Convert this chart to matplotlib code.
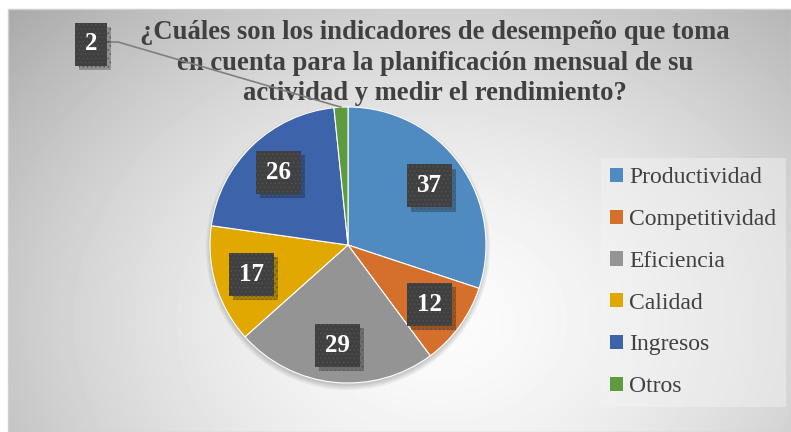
import numpy as np
import matplotlib.pyplot as plt
from matplotlib.patches import Rectangle, Circle
import matplotlib.patheffects as pe

categorias = ["Productividad", "Competitividad", "Eficiencia", "Calidad", "Ingresos", "Otros"]
valores = [37, 12, 29, 17, 26, 2]
colores = ["#4F8BC0", "#D4702B", "#949494", "#E0A800", "#3D64AB", "#5E9A3E"]
titulo = ("¿Cuáles son los indicadores de desempeño que toma\n"
          "en cuenta para la planificación mensual de su\n"
          "actividad y medir el rendimiento?")

W, H = 791, 432
SERIF = ["Liberation Serif", "DejaVu Serif"]
plt.rcParams["hatch.linewidth"] = 0.6

fig = plt.figure(figsize=(W / 100, H / 100), dpi=100)
ax = fig.add_axes([0, 0, 1, 1])

# fondo con degradado radial
x0, y0, x1, y1 = 8, 0, W, H - 9
yy, xx = np.mgrid[y0:y1, x0:x1]
d = np.hypot((xx - 440) / 420, (yy - 110) / 330)
fondo = np.clip(0.985 - 0.19 * d ** 1.6, 0, 1)
ax.imshow(fondo, cmap="gray", vmin=0, vmax=1, origin="lower",
          extent=(x0, x1, y0, y1), aspect="auto", zorder=0)
ax.add_patch(Rectangle((x0, y0), x1 - x0, y1 - y0, fill=False,
                       ec="#cfcfcf", lw=1, zorder=1))

cx, cy, R = 348, 187, 138

# sombra del pastel
for i in range(4):
    ax.add_patch(Circle((cx, cy - 3), R + 4 - i * 1.5, fc="black", ec="none",
                        alpha=0.05, zorder=1))

wedges, _, autotexts = ax.pie(
    valores, colors=colores, startangle=90, counterclock=False,
    center=(cx, cy), radius=R, autopct="%d", pctdistance=0.73,
    wedgeprops=dict(linewidth=0.8, edgecolor="white"), frame=True)

caja = dict(boxstyle="square,pad=0.4", fc="#404040", ec="#525252", lw=0, hatch="....")
sombra = [pe.withSimplePatchShadow(offset=(3, -3), shadow_rgbFace="black", alpha=0.25)]


def etiqueta(x, y, s):
    t = ax.text(x, y, s, fontsize=18, fontweight="bold", family=SERIF,
                color="white", ha="center", va="center", bbox=caja, zorder=6)
    t.get_bbox_patch().set_path_effects(sombra)


for t, v in zip(autotexts, valores):
    x, y = t.get_position()
    t.remove()
    if v >= 5:
        etiqueta(x, y, str(v))

# etiqueta de "Otros" fuera del pastel con línea guía
w = wedges[-1]
ang = np.deg2rad((w.theta1 + w.theta2) / 2)
px, py = cx + R * np.cos(ang), cy + R * np.sin(ang)
ax.plot([px, 118, 106], [py, H - 42, H - 42], color="#7f7f7f", lw=1.2, zorder=4)
etiqueta(91, H - 44, str(valores[-1]))

ax.text(435, H - 63, titulo, ha="center", va="center", fontsize=19.2,
        fontweight="bold", family=SERIF, color="#404040", linespacing=1.28, zorder=3)

leg = ax.legend(wedges, categorias, loc="upper left",
                bbox_to_anchor=(589 / W, 1 - 146 / H),
                prop=dict(family=SERIF, size=17), labelcolor="#404040",
                handlelength=0.55, handleheight=0.55, handletextpad=0.25,
                labelspacing=0.88, frameon=True, fancybox=False,
                facecolor="#f4f4f4", edgecolor="none", framealpha=0.45,
                borderpad=0.4)
for h in leg.legend_handles:
    h.set_edgecolor("none")

ax.set_xlim(0, W)
ax.set_ylim(0, H)
ax.axis("off")

fig.savefig("out.png", dpi=100)
